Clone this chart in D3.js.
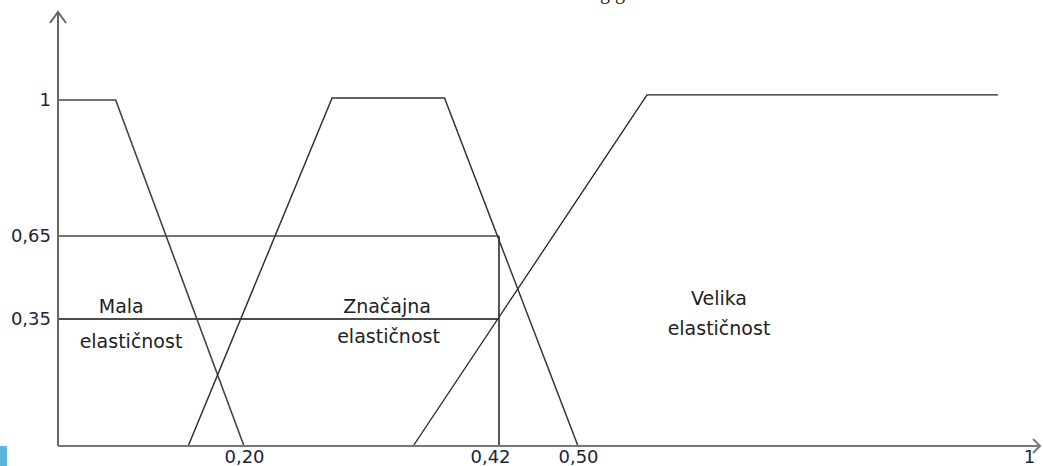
<!DOCTYPE html>
<html>
	<head>
		<meta charset="utf-8">
		<title>Elasticnost</title>
		<style>
			body { margin: 0; background: #fff; }
			.axis text { font: 18px "DejaVu Sans"; fill: #1a2638; }
			.lbl { font: 19px "DejaVu Sans"; fill: #222; text-anchor: middle; }
		</style>
		<script src="https://d3js.org/d3.v7.min.js"></script>
	</head>
	<body>
		<div id="chart"></div>
		<script>
			// tick values and labels
			var xTicks = [0.2, 0.42, 0.5, 1];
			var xTickLabels = ["0,20", "0,42", "0,50", "1"];
			var yTicks = [0.35, 0.65, 1];
			var yTickLabels = ["0,35", "0,65", "1"];

			// membership functions (x, mu)
			var malaX = [0, 0.062, 0.2];
			var malaY = [1, 1, 0];
			var znacajnaX = [0.140, 0.276, 0.373, 0.5];
			var znacajnaY = [0, 1.005, 1.005, 0];
			var velikaX = [0.346, 0.5765, 0.9656];
			var velikaY = [0, 1.013, 1.013];

			// cut levels
			var cutLevels = [0.65, 0.35];
			var cutX = 0.42;

			// labels [text, x, y]
			var labelText = ["Mala", "elastičnost", "Značajna", "elastičnost", "Velika", "elastičnost"];
			var labelX = [0.068, 0.0785, 0.3234, 0.3247, 0.6563, 0.6563];
			var labelY = [0.372, 0.270, 0.372, 0.284, 0.4006, 0.306];

			var width = 1043, height = 466;

			// the drawing is not to scale, so piecewise scales
			var x = d3.scaleLinear()
				.domain([0, 0.2, 0.42, 0.5, 1])
				.range([58, 244, 499, 578, 1029]);

			var y = d3.scaleLinear()
				.domain([0, 0.35, 0.65, 1])
				.range([446, 319, 236, 100]);

			var svg = d3.select("#chart").append("svg")
				.attr("width", width)
				.attr("height", height);

			// blue corner mark
			svg.append("rect")
				.attr("x", 0).attr("y", y(0))
				.attr("width", 7).attr("height", height - y(0))
				.attr("fill", "#5bb5e0");

			// cut-off caption fragment at the top
			svg.append("text")
				.attr("x", 600).attr("y", -1)
				.style("font", "20px 'Liberation Serif'")
				.attr("fill", "#222")
				.text("g    g");

			var line = d3.line()
				.x(function(d) { return x(d[0]); })
				.y(function(d) { return y(d[1]); });

			// cut lines
			svg.selectAll(".cut")
				.data(cutLevels)
				.enter().append("line")
				.attr("class", "cut")
				.attr("x1", x(0)).attr("x2", x(cutX))
				.attr("y1", function(d) { return y(d); })
				.attr("y2", function(d) { return y(d); })
				.attr("stroke", function(d, i) { return i == 0 ? "#444" : "#111"; })
				.attr("stroke-width", 1.5);

			svg.append("line")
				.attr("x1", x(cutX)).attr("x2", x(cutX))
				.attr("y1", y(0)).attr("y2", y(cutLevels[0]))
				.attr("stroke", "#555")
				.attr("stroke-width", 2);

			// membership curves
			var sets = [
				{xs: malaX, ys: malaY, c: "#444", w: 1.6},
				{xs: znacajnaX, ys: znacajnaY, c: "#333", w: 1.5},
				{xs: velikaX, ys: velikaY, c: "#222", w: 1.3}
			];

			svg.selectAll(".mf")
				.data(sets)
				.enter().append("path")
				.attr("class", "mf")
				.attr("fill", "none")
				.attr("stroke", function(d) { return d.c; })
				.attr("stroke-width", function(d) { return d.w; })
				.attr("d", function(d) { return line(d.xs.map(function(v, i) { return [v, d.ys[i]]; })); });

			// axes
			var xAxis = d3.axisBottom(x)
				.tickValues(xTicks)
				.tickFormat(function(d, i) { return xTickLabels[i]; })
				.tickSize(0)
				.tickPadding(4);

			var yAxis = d3.axisLeft(y)
				.tickValues(yTicks)
				.tickFormat(function(d, i) { return yTickLabels[i]; })
				.tickSize(0)
				.tickPadding(7);

			var gx = svg.append("g")
				.attr("class", "x axis")
				.attr("transform", "translate(0," + y(0) + ")")
				.call(xAxis);
			gx.select(".domain").remove();
			gx.selectAll(".tick text")
				.filter(function(d) { return d == 0.42; })
				.attr("dx", -9);

			var gy = svg.append("g")
				.attr("class", "y axis")
				.attr("transform", "translate(" + x(0) + ",0)")
				.call(yAxis);
			gy.select(".domain").remove();

			// axis lines with arrows
			var x0 = x(0), y0 = y(0), yTop = 12, xRight = 1040;
			svg.append("path")
				.attr("fill", "none")
				.attr("stroke", "#666")
				.attr("stroke-width", 2)
				.attr("d", "M" + x0 + "," + y0 + "V" + yTop +
					"M" + (x0 - 8) + "," + (yTop + 11) + "L" + x0 + "," + yTop + "L" + (x0 + 8) + "," + (yTop + 11));

			svg.append("path")
				.attr("fill", "none")
				.attr("stroke", "#777")
				.attr("stroke-width", 2)
				.attr("d", "M" + x0 + "," + y0 + "H" + xRight +
					"M" + (xRight - 7) + "," + (y0 - 7) + "L" + xRight + "," + y0 + "L" + (xRight - 7) + "," + (y0 + 7));

			// set names
			svg.selectAll(".lbl")
				.data(labelText)
				.enter().append("text")
				.attr("class", "lbl")
				.attr("x", function(d, i) { return x(labelX[i]); })
				.attr("y", function(d, i) { return y(labelY[i]); })
				.text(function(d) { return d; });
		</script>
	</body>
</html>
